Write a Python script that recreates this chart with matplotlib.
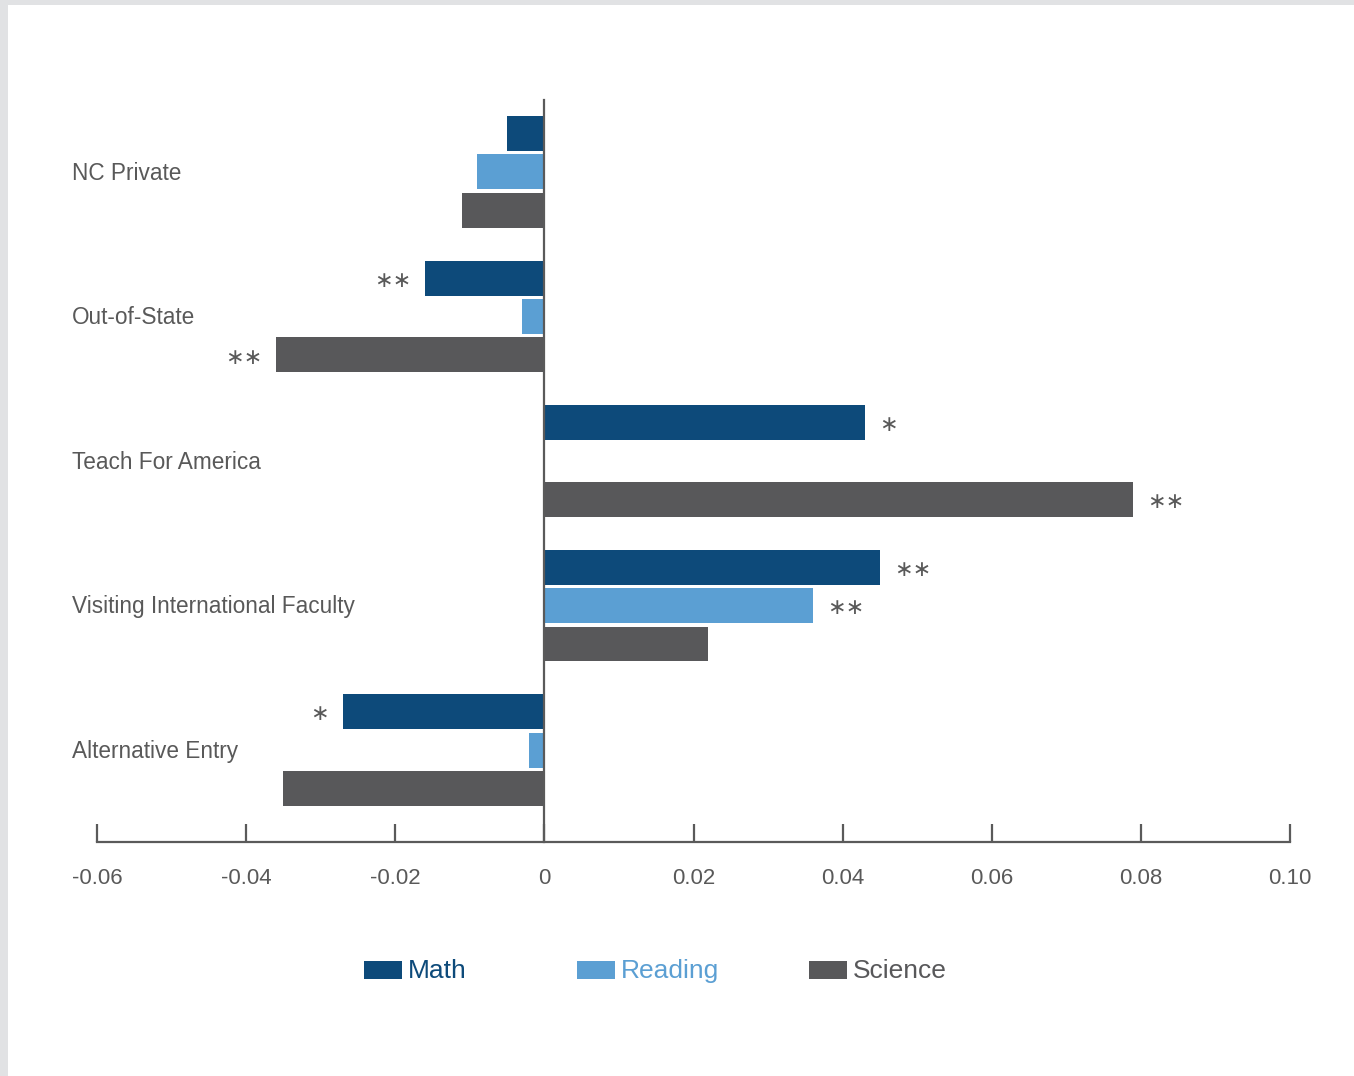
import numpy as np
import matplotlib
matplotlib.use("Agg")
import matplotlib.pyplot as plt
import matplotlib.transforms as mtransforms
from matplotlib.patches import Rectangle

# data
categories = ["NC Private", "Out-of-State", "Teach For America",
              "Visiting International Faculty", "Alternative Entry"]
subjects = ["Math", "Reading", "Science"]
math_vals = [-0.005, -0.016, 0.043, 0.045, -0.027]
reading_vals = [-0.009, -0.003, np.nan, 0.036, -0.002]
science_vals = [-0.011, -0.036, 0.079, 0.022, -0.035]
math_stars = ["", "**", "*", "**", "*"]
reading_stars = ["", "", "", "**", ""]
science_stars = ["", "**", "**", "", ""]
x_ticks = [-0.06, -0.04, -0.02, 0, 0.02, 0.04, 0.06, 0.08, 0.10]
x_tick_labels = ["-0.06", "-0.04", "-0.02", "0", "0.02", "0.04", "0.06", "0.08", "0.10"]

colors = ["#0d4a7a", "#5b9fd3", "#58585a"]
axis_color = "#5a5a5a"
text_color = "#595959"

plt.rcParams['font.family'] = ['Liberation Sans', 'DejaVu Sans']

W, H = 1354, 1076
fig = plt.figure(figsize=(W / 100, H / 100), dpi=100)
fig.patch.set_facecolor("white")

# gray frame strips (top and left)
fig.patches.append(Rectangle((0, 1 - 5 / H), 1, 5 / H, transform=fig.transFigure,
                             facecolor="#e1e2e4", edgecolor="none", zorder=0))
fig.patches.append(Rectangle((0, 0), 8 / W, 1, transform=fig.transFigure,
                             facecolor="#e1e2e4", edgecolor="none", zorder=0))

left, right, top, bottom = 97, 1290, 100, 842
ax = fig.add_axes([left / W, 1 - bottom / H, (right - left) / W, (bottom - top) / H])
ax.set_facecolor("none")

series = [math_vals, reading_vals, science_vals]
stars = [math_stars, reading_stars, science_stars]
y = np.arange(len(categories))
step = 0.266
bar_h = 0.242

for j, (vals, col, st) in enumerate(zip(series, colors, stars)):
    ypos = y + (j - 1) * step
    ax.barh(ypos, vals, height=bar_h, color=col, zorder=2)
    for yy, v, s in zip(ypos, vals, st):
        if not s:
            continue
        txt = "\u2217" * len(s)
        dx = -10 if v < 0 else 10
        ax.annotate(txt, (v, yy), xytext=(dx, -2), textcoords="offset points",
                    ha="right" if v < 0 else "left", va="center", fontsize=16,
                    color=text_color, family=["DejaVu Sans"])

ax.set_xlim(-0.06, 0.10)
ax.set_ylim(4.636, -0.498)

for s in ["top", "right"]:
    ax.spines[s].set_visible(False)
ax.spines["left"].set_position(("data", 0))
ax.spines["left"].set_color(axis_color)
ax.spines["left"].set_linewidth(1.6)
ax.spines["left"].set_zorder(3)
ax.spines["bottom"].set_color(axis_color)
ax.spines["bottom"].set_linewidth(1.6)

ax.set_yticks([])
ax.set_xticks(x_ticks)
ax.set_xticklabels(x_tick_labels)
ax.tick_params(axis="x", direction="in", length=13, width=1.6, color=axis_color,
               pad=19, labelsize=16, labelcolor=text_color)

# category labels, left aligned at a fixed figure position
trans = mtransforms.blended_transform_factory(fig.transFigure, ax.transData)
for yy, cat in zip(y, categories):
    ax.annotate(cat, (72 / W, yy), xycoords=trans, xytext=(0, -1),
                textcoords="offset points", ha="left", va="center",
                fontsize=16.3, color=text_color)

# legend drawn by hand
leg_box_x = [364, 577, 809]
leg_y = 970
for bx, col, name in zip(leg_box_x, colors, subjects):
    fig.patches.append(Rectangle((bx / W, 1 - (leg_y + 9) / H), 38 / W, 18 / H,
                                 transform=fig.transFigure, facecolor=col,
                                 edgecolor="none"))
    fig.text((bx + 44) / W, 1 - (leg_y + 1) / H, name, ha="left", va="center",
             fontsize=19, color=col)

fig.savefig("out.png", dpi=100)
